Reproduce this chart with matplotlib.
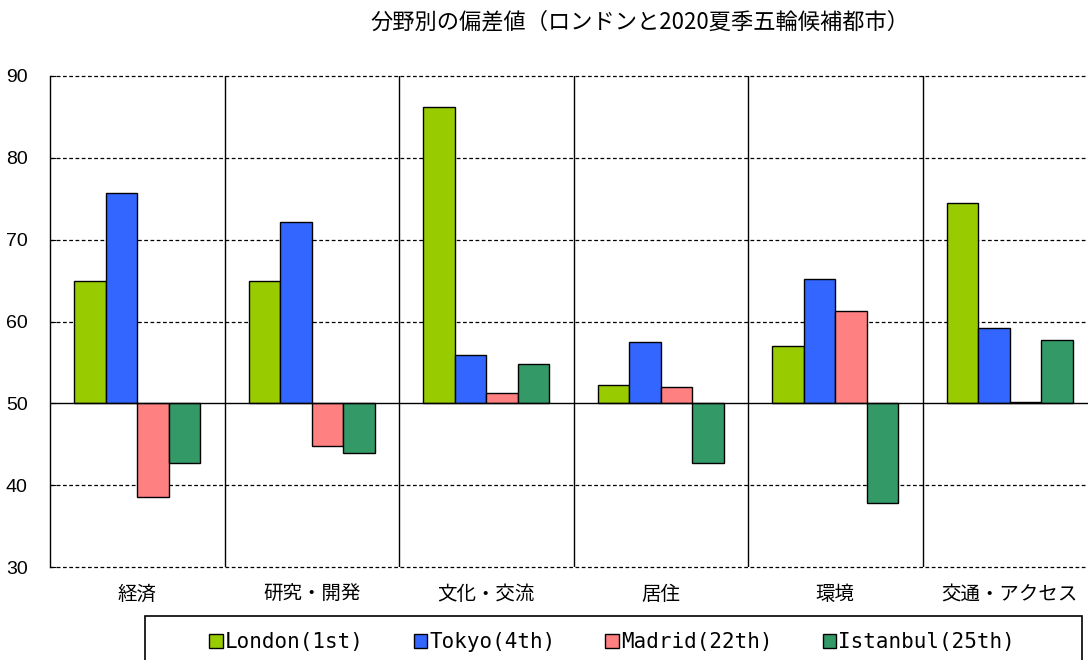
import matplotlib
matplotlib.use("Agg")
import matplotlib.pyplot as plt
import numpy as np
from matplotlib.patches import Rectangle, Patch

plt.rcParams["font.family"] = ["Noto Sans CJK JP", "DejaVu Sans"]

TITLE = "分野別の偏差値（ロンドンと2020夏季五輪候補都市）"
CATEGORIES = ["経済", "研究・開発", "文化・交流", "居住", "環境", "交通・アクセス"]
SERIES = ["London(1st)", "Tokyo(4th)", "Madrid(22th)", "Istanbul(25th)"]
COLORS = ["#99cc00", "#3366ff", "#ff8080", "#339966"]

london = [65.0, 64.9, 86.2, 52.2, 57.0, 74.5]
tokyo = [75.7, 72.1, 55.9, 57.5, 65.2, 59.2]
madrid = [38.6, 44.8, 51.3, 52.0, 61.3, 50.15]
istanbul = [42.7, 43.9, 54.8, 42.7, 37.8, 57.8]
values = [london, tokyo, madrid, istanbul]

BASE = 50
W, H = 1088, 660
fig = plt.figure(figsize=(W / 100, H / 100), dpi=100)
ax = fig.add_axes([50 / W, 1 - 567 / H, 1047 / W, 491 / H])

x = np.arange(len(CATEGORIES))
bw = 0.18
for i, (vals, color, name) in enumerate(zip(values, COLORS, SERIES)):
    v = np.array(vals)
    ax.bar(x + (i - 1.5) * bw, v - BASE, bottom=BASE, width=bw,
           color=color, edgecolor="black", linewidth=1.0, zorder=3)

ax.set_xlim(-0.5, len(CATEGORIES) - 0.5)
ax.set_ylim(30, 90)
ax.set_yticks(range(30, 91, 10))

for yv in range(30, 91, 10):
    if yv == BASE:
        ax.axhline(yv, color="black", linewidth=1.0, zorder=4)
    else:
        ax.axhline(yv, color="black", linewidth=0.9, linestyle=(0, (3, 2)),
                   zorder=1, clip_on=False)
for xs in np.arange(0.5, len(CATEGORIES) - 0.5, 1):
    ax.axvline(xs, color="black", linewidth=1.0, zorder=2)

for s in ["top", "right", "bottom"]:
    ax.spines[s].set_visible(False)
ax.spines["left"].set_linewidth(1.0)

ax.set_xticks(x)
ax.set_xticklabels(CATEGORIES, fontsize=14)
ax.tick_params(axis="x", length=0, pad=12)
ax.tick_params(axis="y", direction="in", length=4, pad=16, labelsize=14)
for t in ax.get_yticklabels():
    t.set_fontfamily(["Liberation Sans", "DejaVu Sans"])

fig.text(640 / W, 1 - 22 / H, TITLE, ha="center", va="center", fontsize=16)

# legend box
fig.patches.append(Rectangle((145 / W, -0.05), 937 / W, (0.05 + 1 - 616 / H),
                             transform=fig.transFigure, fill=False,
                             edgecolor="black", linewidth=1.2))
handles = [Patch(facecolor=c, edgecolor="black", linewidth=1.0) for c in COLORS]
fig.legend(handles, SERIES, loc="center", bbox_to_anchor=(612 / W, 1 - 642 / H),
           ncol=4, frameon=False, handlelength=0.65, handleheight=0.65,
           handletextpad=0.1, columnspacing=2.4,
           prop={"family": ["DejaVu Sans Mono"], "size": 15})

fig.savefig("out.png", dpi=100)
